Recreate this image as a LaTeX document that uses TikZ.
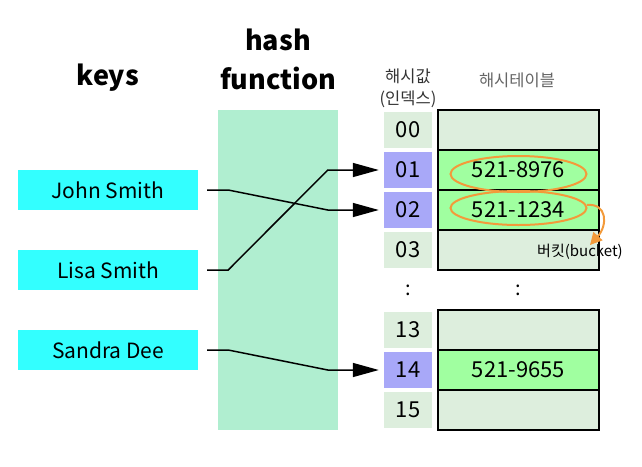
\documentclass[tikz,border=0pt]{standalone}
\usepackage{fontspec}
\setmainfont{Noto Sans CJK KR}
\usetikzlibrary{arrows.meta}
\usetikzlibrary{calc,positioning}

\definecolor{keycyan}{HTML}{33FFFF}
\definecolor{hashgreen}{HTML}{B0EED0}
\definecolor{slotgray}{HTML}{DDEEDD}
\definecolor{slotblue}{HTML}{A8A8F8}
\definecolor{entrygreen}{HTML}{A0FFA0}
\definecolor{bucketorange}{HTML}{F39A3A}

\begin{document}
\begin{tikzpicture}[
    x=1pt, y=-1pt,
    keybox/.style={fill=keycyan, minimum width=180pt, minimum height=40pt,
        inner sep=0pt, font=\fontsize{21}{24}\selectfont},
    idxbox/.style={minimum width=48pt, minimum height=36pt,
        inner sep=0pt, font=\fontsize{22}{24}\selectfont},
    rowbox/.style={draw, line width=2pt, minimum width=161pt, minimum height=40pt,
        inner sep=0pt, font=\fontsize{22}{24}\selectfont},
    hashline/.style={line width=1.5pt, -{Triangle[length=26pt,width=14pt]},
        shorten >=5pt},
    headline/.style={font=\fontsize{27}{39}\selectfont\bfseries, align=center},
 ]
    \useasboundingbox (0,0) rectangle (642,466);

    % column titles
    \node[headline] (keystitle) at (108,78) {keys};
    \node[headline] (hashtitle) at (278,59) {hash\\function};
    \node[font=\fontsize{16.5}{22}\selectfont, text=black!80, align=center]
        (idxtitle) at (408,88) {해시값\\(인덱스)};
    \node[font=\fontsize{16.5}{22}\selectfont, text=black!60]
        (tabletitle) at (517,80) {해시테이블};

    % hash function
    \node[fill=hashgreen, minimum width=120pt, minimum height=320pt]
        (hashfn) at (278,270) {};

    % keys
    \node[keybox] (john)   at (108,190) {John Smith};
    \node[keybox] (lisa)   at (108,270) {Lisa Smith};
    \node[keybox] (sandra) at (108,350) {Sandra Dee};

    % index slots and table rows
    \foreach \i/\y/\c in {00/130/slotgray, 01/170/slotblue, 02/210/slotblue,
            03/250/slotgray, 13/330/slotgray, 14/370/slotblue, 15/410/slotgray}
        \node[idxbox, fill=\c] (idx\i) at (408,\y) {\i};
    \foreach \i/\y/\c/\t in {00/130/slotgray/{}, 01/170/entrygreen/521-8976,
            02/210/entrygreen/521-1234, 03/250/slotgray/{},
            13/330/slotgray/{}, 14/370/entrygreen/521-9655, 15/410/slotgray/{}}
        \node[rowbox, fill=\c] (row\i) at (518.5,\y) {\t};

    \node[font=\fontsize{20}{24}\selectfont] (idxdots) at (408,290) {:};
    \node[font=\fontsize{20}{24}\selectfont] (rowdots) at (518,290) {:};

    % mappings
    \draw[hashline] ([xshift=9pt]john.east) -- ++(21,0)
        -- ([xshift=-56pt]idx02.west) -- (idx02.west);
    \draw[hashline] ([xshift=9pt]lisa.east) -- ++(21,0)
        -- ([xshift=-56pt]idx01.west) -- (idx01.west);
    \draw[hashline] ([xshift=9pt]sandra.east) -- ++(21,0)
        -- ([xshift=-56pt]idx14.west) -- (idx14.west);

    % buckets
    \draw[bucketorange, line width=2pt] ([yshift=-4pt]row01.center) ellipse (68pt and 18pt);
    \draw[bucketorange, line width=2pt] ([yshift=2pt]row02.center) ellipse (68pt and 17pt);
    \draw[bucketorange, line width=2pt, -{Triangle[length=12pt,width=12pt]}]
        ($(row02.center)+(68.5,-5)$) .. controls +(20,-2) and +(18,-20)
        .. ($(row03.center)+(71.5,-5)$);
    \node[font=\fontsize{15}{16}\selectfont] (bucket) at (580,252) {버킷(bucket)};
\end{tikzpicture}
\end{document}
